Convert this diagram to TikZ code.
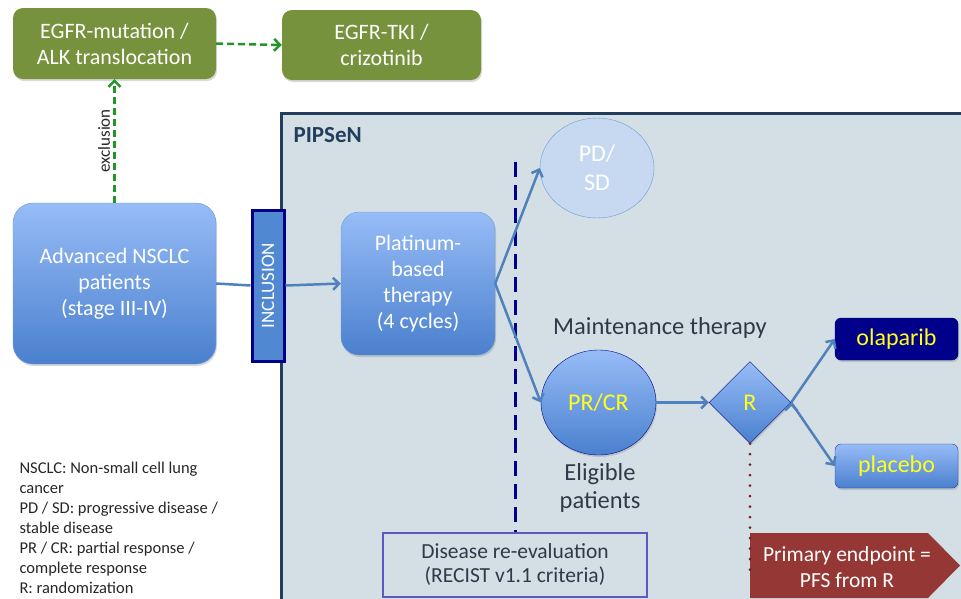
\documentclass[tikz,border=0pt]{standalone}
\usepackage{fontspec}
\setmainfont{Carlito}
\usetikzlibrary{arrows.meta,shapes.geometric,shadows,positioning}

\definecolor{egfrgreen}{HTML}{76923C}
\definecolor{exclgreen}{HTML}{22962A}
\definecolor{bluetop}{HTML}{97BCF7}
\definecolor{bluebot}{HTML}{4A80CE}
\definecolor{blueedge}{HTML}{6E9AD8}
\definecolor{flowblue}{HTML}{4F81BD}
\definecolor{inclfill}{HTML}{5088D2}
\definecolor{framefill}{HTML}{D3DFE5}
\definecolor{frameedge}{HTML}{233E5C}
\definecolor{navy}{HTML}{00008B}
\definecolor{pdfill}{HTML}{C6D9F1}
\definecolor{endred}{HTML}{953735}
\definecolor{dotred}{HTML}{6E2424}
\definecolor{darktext}{HTML}{2E3A48}
\definecolor{evalbox}{HTML}{5A5AC2}
\definecolor{txtyellow}{HTML}{FFFF1A}

\begin{document}
\begin{tikzpicture}[x=1pt,y=-1pt,
    shade/.style={drop shadow={opacity=0.3,shadow xshift=1pt,shadow yshift=-2pt}},
    greenbox/.style={fill=egfrgreen, rounded corners=10pt, text=white, align=center,
      font=\fontsize{22}{26}\selectfont, minimum width=203pt, minimum height=71pt, shade},
    bluebox/.style={draw=blueedge, top color=bluetop, bottom color=bluebot, text=white,
      align=center, font=\fontsize{22}{26}\selectfont, shade},
    yellowtxt/.style={text=txtyellow, font=\fontsize{24}{28}\selectfont},
    flow/.style={-{Straight Barb[length=6pt,width=12pt]}, draw=flowblue, line width=2.5pt},
    excl/.style={-{Straight Barb[length=6pt,width=12pt]}, draw=exclgreen, line width=2.5pt,
      dash pattern=on 7pt off 4pt}]

  \useasboundingbox (0,0) rectangle (961,598);
  \clip (0,0) rectangle (961,598);

  % PIPSeN frame
  \draw[fill=framefill, draw=frameedge, line width=3pt] (281,113) rectangle (990,630);
  \node[anchor=west, text=frameedge, font=\fontsize{23}{26}\selectfont\bfseries] (pipsen) at (290,135) {PIPSeN};

  \node[greenbox] (egfr) at (114.5,43.5) {EGFR-mutation /\\ALK translocation};
  \node[greenbox, minimum width=199pt, minimum height=70pt] (tki) at (381.5,45) {EGFR-TKI /\\crizotinib};

  \node[bluebox, rounded corners=20pt, minimum width=203pt, minimum height=161pt] (nsclc) at (114.5,283.5)
    {\rule{0pt}{8pt}Advanced NSCLC\\patients\\(stage III-IV)};
  \node[draw=navy, fill=inclfill, line width=3pt, minimum width=32pt, minimum height=151pt,
    inner sep=0pt] (incl) at (268,285.5) {};
  \node[rotate=90, text=white, font=\fontsize{19}{22}\selectfont] (incltxt) at (incl.center) {INCLUSION};
  \node[bluebox, rounded corners=18pt, minimum width=154pt, minimum height=143pt] (plat) at (418,283.5)
    {\rule{0pt}{8pt}Platinum-\\based\\therapy\\(4 cycles)};

  \node[ellipse, draw=blueedge, fill=pdfill, minimum width=114pt, minimum height=100pt, text=white,
    align=center, font=\fontsize{24}{29}\selectfont, inner sep=0pt] (pdsd) at (597,168) {PD/\\SD};
  \node[ellipse, bluebox, draw=navy, minimum width=115pt, minimum height=105pt, yellowtxt] (prcr) at (598.5,402.5) {PR/CR};
  \node[diamond, bluebox, draw=navy, inner sep=0pt, minimum size=82pt, yellowtxt] (rand) at (750,402.5) {R};

  \node[fill=navy, draw=navy!70!black, rounded corners=6pt, minimum width=123pt, minimum height=42pt,
    yellowtxt, shade] (ola) at (896.5,339) {olaparib};
  \node[bluebox, draw=navy!80!white, rounded corners=6pt, minimum width=123pt, minimum height=44pt,
    yellowtxt] (plac) at (896.5,466) {placebo};

  \node[text=darktext, font=\fontsize{24.5}{28}\selectfont] (maint) at (660,328) {Maintenance therapy};
  \node[text=darktext, align=center, font=\fontsize{24.5}{28}\selectfont] (elig) at (600,488) {Eligible\\patients};

  \node[draw=evalbox, line width=1.2pt, minimum width=264pt, minimum height=64pt, align=center, inner sep=0pt,
    text=darktext, font=\fontsize{21.5}{24}\selectfont] (disease) at (515,565) {Disease re-evaluation\\(RECIST v1.1 criteria)};

  % primary endpoint arrow
  \fill[endred] (750,533) -- (928,533) -- (960,565.5) -- (928,598) -- (750,598) -- cycle;
  \node[text=white, align=center, font=\fontsize{21.5}{26}\selectfont] (endpt) at (847,567) {Primary endpoint =\\PFS from R};

  \node[anchor=north west, align=left, text=black!85, font=\fontsize{16.5}{20}\selectfont] (legend) at (16,458)
    {NSCLC: Non-small cell lung\\cancer\\PD / SD: progressive disease /\\stable disease\\PR / CR: partial response /\\complete response\\R: randomization};

  \coordinate (divtop) at (515,162);
  \coordinate (dotend) at (750,580);

  \draw[navy, line width=3pt, dash pattern=on 15pt off 8pt] (divtop) -- (disease.north);
  \draw[dotred, line width=3pt, line cap=round, dash pattern=on 0pt off 10.5pt] (rand.south) -- (dotend);

  \draw[excl] (egfr.east) -- (tki.west);
  \draw[excl] (nsclc.north) -- node[rotate=90, above, font=\fontsize{17}{20}\selectfont, text=black!85] {exclusion} (egfr.south);

  \draw[flowblue, line width=2.5pt] (nsclc.east) -- (incl.west);
  \path[flow]
    (incl.east) edge (plat.west)
    (plat.east) edge (pdsd.west)
    (plat.east) edge (prcr.west)
    (prcr.east) edge (rand.west)
    (rand.east) edge (ola.west)
    (rand.east) edge (plac.west);
\end{tikzpicture}
\end{document}
